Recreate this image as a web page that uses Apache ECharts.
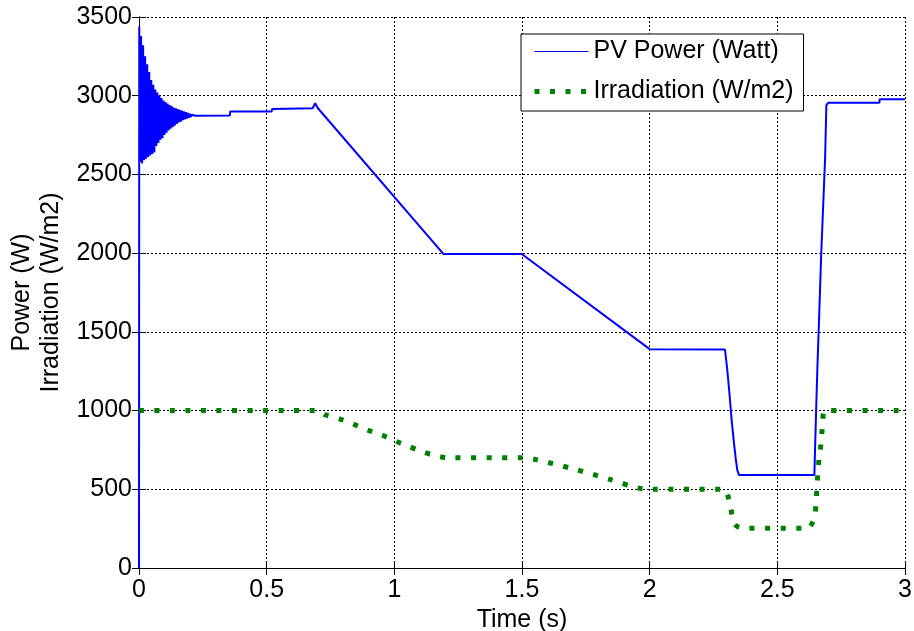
<!DOCTYPE html>
<html><head><meta charset="utf-8">
<script src="https://cdn.jsdelivr.net/npm/echarts@6/dist/echarts.min.js"></script>
<style>html,body{margin:0;padding:0;background:#fff}#c{width:914px;height:631px}</style>
</head><body><div id="c"></div>
<script>
// PV power (W) vs time (s)
const pvT = [0, 0.001, 0.004, 0.008, 0.012, 0.016, 0.020, 0.024, 0.028, 0.032, 0.036, 0.040, 0.044, 0.048, 0.052, 0.056, 0.060, 0.064, 0.068, 0.072, 0.076, 0.080, 0.084, 0.088, 0.092, 0.096, 0.100, 0.104, 0.108, 0.112, 0.116, 0.120, 0.124, 0.128, 0.132, 0.136, 0.140, 0.144, 0.148, 0.152, 0.156, 0.160, 0.164, 0.168, 0.172, 0.176, 0.180, 0.184, 0.188, 0.192, 0.196, 0.200, 0.204, 0.208, 0.212, 0.22, 0.356, 0.357, 0.52, 0.521, 0.68, 0.69, 0.70, 1.192, 1.499, 2.0, 2.295, 2.304, 2.313, 2.321, 2.331, 2.337, 2.343, 2.35, 2.645, 2.648, 2.652, 2.657, 2.662, 2.672, 2.687, 2.692, 2.70, 2.90, 2.901, 3.0];
const pvP = [0, 3440, 2580, 3380, 2570, 3320, 2590, 3250, 2600, 3200, 2610, 3150, 2620, 3100, 2630, 3070, 2640, 3040, 2680, 3020, 2700, 3000, 2720, 2985, 2730, 2970, 2750, 2960, 2765, 2950, 2780, 2940, 2790, 2935, 2800, 2925, 2810, 2920, 2820, 2915, 2830, 2910, 2835, 2905, 2845, 2900, 2850, 2895, 2855, 2890, 2860, 2885, 2865, 2880, 2870, 2873, 2875, 2900, 2900, 2915, 2920, 2952, 2922, 1995, 1995, 1390, 1388, 1258, 1099, 940, 781, 697, 623, 590, 590, 771, 1004, 1279, 1512, 2000, 2600, 2940, 2956, 2956, 2978, 2978];
// Irradiation (W/m2) vs time (s)
const irrT = [0, 0.70, 0.728, 0.787, 0.838, 0.893, 0.948, 1.003, 1.053, 1.108, 1.167, 1.21, 1.50, 1.55, 1.70, 1.85, 1.95, 2.0, 2.29, 2.305, 2.318, 2.331, 2.345, 2.373, 2.62, 2.635, 2.645, 2.652, 2.655, 2.659, 2.664, 2.672, 2.676, 2.682, 2.69, 3.0];
const irrV = [1000, 1000, 974, 946, 915, 877, 847, 807, 775, 739, 711, 700, 700, 690, 630, 560, 510, 500, 500, 464, 375, 286, 262, 252, 252, 280, 318, 413, 515, 610, 705, 800, 896, 997, 1000, 1000];
const xTickInterval = 0.5, yTickInterval = 500;
const seriesNames = ['PV Power (Watt)', 'Irradiation (W/m2)'];

const FONT = 'Liberation Sans, Arial, sans-serif';
const zip = (a, b) => a.map((v, i) => [v, b[i]]);
const chart = echarts.init(document.getElementById('c'), null, {renderer: 'canvas'});
const frame = {show: true, lineStyle: {color: '#000', width: 1}};
const inTick = {show: true, inside: true, length: 7, lineStyle: {color: '#000'}};
const plain = v => String(v);
chart.setOption({
  animation: false,
  backgroundColor: '#fff',
  grid: {left: 139, right: 9, top: 17, bottom: 63, containLabel: false, outerBoundsMode: 'none'},
  legend: {
    orient: 'vertical', left: 521, top: 34,
    backgroundColor: '#fff', borderColor: '#000', borderWidth: 1, borderRadius: 0,
    padding: [5, 10, 7, 11], itemGap: 15, itemWidth: 54, itemHeight: 14,
    itemStyle: {opacity: 0},
    textStyle: {fontSize: 25, fontFamily: FONT, color: '#000', lineHeight: 25},
    data: [
      {name: seriesNames[0], lineStyle: {width: 1.2, color: '#0000ff'}},
      {name: seriesNames[1], lineStyle: {width: 5, color: '#008000', type: [5, 10.5]}}
    ]
  },
  xAxis: [{
    type: 'value', min: 0, max: 3, interval: xTickInterval, position: 'bottom',
    name: 'Time (s)', nameLocation: 'middle', nameGap: 35,
    nameTextStyle: {fontSize: 25, fontFamily: FONT, color: '#000'},
    axisLine: frame, axisTick: inTick,
    axisLabel: {fontSize: 25, fontFamily: FONT, color: '#000', margin: 10, formatter: plain},
    splitLine: {show: true, lineStyle: {color: '#000', type: [2, 2], width: 1}}
  }, {
    type: 'value', min: 0, max: 3, interval: xTickInterval, position: 'top',
    axisLine: frame, axisTick: inTick, axisLabel: {show: false}, splitLine: {show: false}
  }],
  yAxis: [{
    type: 'value', min: 0, max: 3500, interval: yTickInterval, position: 'left',
    name: 'Power (W)\nIrradiation (W/m2)', nameLocation: 'middle', nameGap: 72, nameRotate: 90,
    nameTextStyle: {fontSize: 25, fontFamily: FONT, color: '#000', lineHeight: 29},
    axisLine: frame, axisTick: inTick,
    axisLabel: {fontSize: 25, fontFamily: FONT, color: '#000', margin: 7, formatter: plain},
    splitLine: {show: true, lineStyle: {color: '#000', type: [2, 2], width: 1}}
  }, {
    type: 'value', min: 0, max: 3500, interval: yTickInterval, position: 'right',
    axisLine: frame, axisTick: inTick, axisLabel: {show: false}, splitLine: {show: false}
  }],
  series: [{
    name: seriesNames[0], type: 'line', data: zip(pvT, pvP),
    symbol: 'none', z: 3,
    lineStyle: {color: '#0000ff', width: 2},
    itemStyle: {color: '#0000ff'}
  }, {
    name: seriesNames[1], type: 'line', data: zip(irrT, irrV), smooth: 0.3,
    symbol: 'none', z: 4,
    lineStyle: {color: '#008000', width: 5, type: [5, 10.5], cap: 'butt'},
    itemStyle: {color: '#008000'}
  }]
});
</script>
</body></html>
